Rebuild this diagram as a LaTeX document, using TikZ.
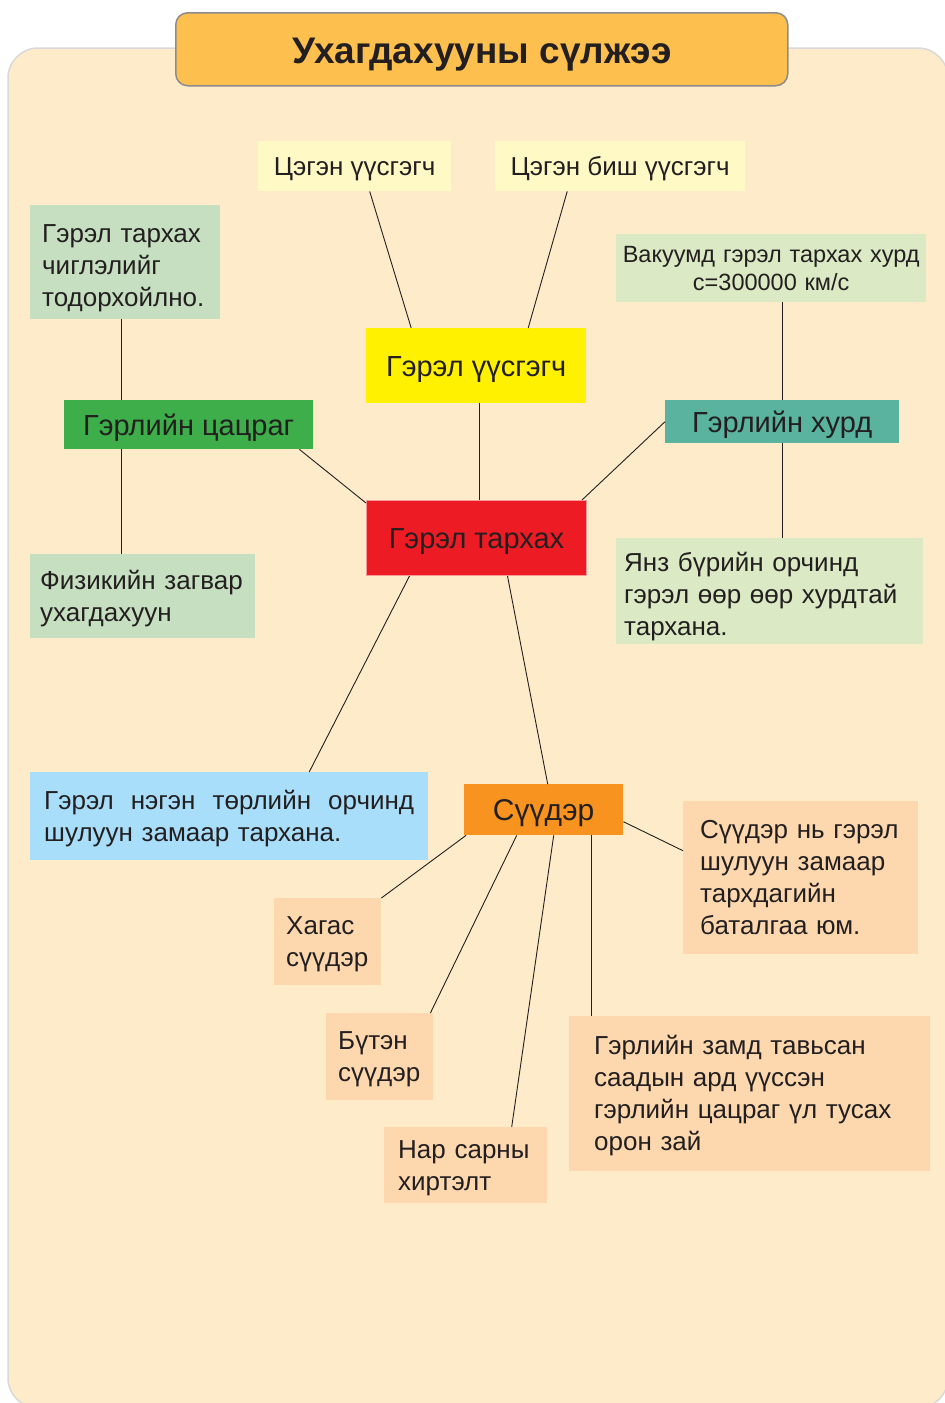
\documentclass[tikz,border=0pt]{standalone}
\usepackage{fontspec}
\setmainfont{Liberation Sans}
\usepackage{xcolor}
\usepackage{tikz}
\usetikzlibrary{positioning}

\definecolor{ink}{HTML}{231F20}
\definecolor{paper}{HTML}{FEEBC9}
\definecolor{titlefill}{HTML}{FDC04E}
\definecolor{paleyellow}{HTML}{FFF9C6}
\definecolor{sage}{HTML}{C6DFC0}
\definecolor{mint}{HTML}{DBEAC4}
\definecolor{lemon}{HTML}{FFF100}
\definecolor{leaf}{HTML}{3DAE49}
\definecolor{teal}{HTML}{5AB39E}
\definecolor{scarlet}{HTML}{ED1C24}
\definecolor{sky}{HTML}{A8DEFA}
\definecolor{tangerine}{HTML}{F7931E}
\definecolor{peach}{HTML}{FDD8AE}

\begin{document}
\begin{tikzpicture}[
  x=1pt, y=-1pt,
  %% style definitions
  box/.style    = {anchor=north west, inner xsep=0pt, inner ysep=0pt,
                   align=center, text=ink, text height=18pt,
                   font=\fontsize{26}{32}\selectfont},
  rows/.style   = {text depth=#1},
  note/.style   = {box, align=left},
  hub/.style    = {box, text height=21pt, text depth=0pt,
                   font=\fontsize{29}{32}\selectfont},
  wire/.style   = {draw=ink, line width=0.9pt},
]

\useasboundingbox (0,0) rectangle (945,1403);

%% ── Panel and title ──────────────────────────────────────────────────────────
\path[fill=paper, draw=black!15, line width=1.5pt, rounded corners=30pt]
  (8,48) rectangle (948,1408);

\node[box, fill=titlefill, draw=black!45, line width=1.5pt,
      rounded corners=12pt, minimum width=612pt, minimum height=73pt,
      text height=28pt, text depth=0pt,
      font=\fontsize{37}{40}\selectfont\bfseries]
  (title) at (175,12) {Ухагдахууны сүлжээ};

%% ── Sources (top) ────────────────────────────────────────────────────────────
\node[box, rows=0pt, fill=paleyellow, minimum width=193pt, minimum height=50pt]
  (point) at (258,141) {Цэгэн үүсгэгч};

\node[box, rows=0pt, fill=paleyellow, minimum width=250pt, minimum height=50pt]
  (nonpoint) at (495,141) {Цэгэн биш үүсгэгч};

\node[hub, fill=lemon, minimum width=220pt, minimum height=75pt]
  (source) at (366,328) {Гэрэл үүсгэгч};

%% ── Ray branch (left) ────────────────────────────────────────────────────────
\node[note, rows=58pt, fill=sage, inner xsep=12pt, text width=166pt,
      minimum height=114pt]
  (direction) at (30,205) {Гэрэл тархах\\чиглэлийг\\тодорхойлно.};

\node[hub, fill=leaf, minimum width=249pt, minimum height=49pt]
  (ray) at (64,400) {Гэрлийн цацраг};

\node[note, rows=32pt, fill=sage, inner xsep=10pt, text width=205pt,
      minimum height=84pt]
  (model) at (30,554) {Физикийн загвар\\ухагдахуун};

%% ── Speed branch (right) ─────────────────────────────────────────────────────
\node[box, fill=mint, text width=310pt, minimum height=68pt,
      text height=16.5pt, rows=28pt, font=\fontsize{23.5}{28}\selectfont]
  (vacuum) at (616,234) {Вакуумд гэрэл тархах хурд\\c=300000 км/с};

\node[hub, fill=teal, minimum width=234pt, minimum height=43pt]
  (speed) at (665,400) {Гэрлийн хурд};

\node[note, rows=58pt, fill=mint, inner xsep=8pt, text width=291pt,
      minimum height=106pt]
  (media) at (616,538) {Янз бүрийн орчинд\\гэрэл өөр өөр хурдтай\\тархана.};

%% ── Centre ───────────────────────────────────────────────────────────────────
\node[hub, fill=scarlet, draw=scarlet!45, line width=1pt,
      minimum width=220pt, minimum height=75pt]
  (spread) at (366,500) {Гэрэл тархах};

\node[note, rows=32pt, fill=sky, inner xsep=14pt, text width=370pt,
      minimum height=88pt]
  (straight) at (30,772)
  {\hbox to\linewidth{Гэрэл\hfill нэгэн\hfill төрлийн\hfill орчинд}\\
   шулуун замаар тархана.};

%% ── Shadow branch (bottom) ───────────────────────────────────────────────────
\node[hub, fill=tangerine, minimum width=159pt, minimum height=51pt,
      font=\fontsize{30}{32}\selectfont]
  (shadow) at (464,784) {Сүүдэр};

\node[note, rows=96pt, fill=peach, inner xsep=17pt, text width=201pt,
      minimum height=153pt]
  (proof) at (683,801) {Сүүдэр нь гэрэл\\шулуун замаар\\тархдагийн\\баталгаа юм.};

\node[note, rows=32pt, fill=peach, inner xsep=12pt, text width=83pt,
      minimum height=87pt]
  (half) at (274,898) {Хагас\\сүүдэр};

\node[note, rows=32pt, fill=peach, inner xsep=12pt, text width=83pt,
      minimum height=87pt]
  (full) at (326,1013) {Бүтэн\\сүүдэр};

\node[note, rows=32pt, fill=peach, inner xsep=14pt, text width=135pt,
      minimum height=76pt]
  (eclipse) at (384,1127) {Нар сарны\\хиртэлт};

\node[note, rows=96pt, fill=peach, inner xsep=25pt, text width=311pt,
      minimum height=155pt]
  (umbra) at (569,1016)
  {Гэрлийн замд тавьсан\\саадын ард үүссэн\\гэрлийн цацраг үл тусах\\орон зай};

%% ── Connectors ───────────────────────────────────────────────────────────────
\draw[wire] ([xshift=15pt]point.south)    -- ([xshift=-65pt]source.north);
\draw[wire] ([xshift=-53pt]nonpoint.south) -- ([xshift=52pt]source.north);
\draw[wire] ([xshift=3pt]source.south)    -- ([xshift=3pt]source.south |- spread.north);

\draw[wire] ([xshift=-4pt]direction.south) -- ([xshift=-4pt]direction.south |- ray.north);
\draw[wire] ([xshift=-67pt]ray.south)      -- ([xshift=-67pt]ray.south |- model.north);
\draw[wire] ([xshift=-14pt]ray.south east) -- ([yshift=-3pt]spread.north west);

\draw[wire] ([xshift=11pt]vacuum.south)   -- ([xshift=11pt]vacuum.south |- speed.north);
\draw[wire] (speed.south)                 -- (speed.south |- media.north);
\draw[wire] (speed.west)                  -- ([xshift=-5pt]spread.north east);

\draw[wire] ([xshift=-67pt]spread.south)  -- ([xshift=80pt]straight.north);
\draw[wire] ([xshift=31pt]spread.south)   -- ([xshift=4pt]shadow.north);

\draw[wire] ([yshift=-12pt]shadow.east)    -- ([yshift=27pt]proof.west);
\draw[wire] ([xshift=2pt]shadow.south west) -- (half.north east);
\draw[wire] ([xshift=-27pt]shadow.south)  -- ([xshift=-3pt]full.north east);
\draw[wire] ([xshift=10pt]shadow.south)   -- ([xshift=46pt]eclipse.north);
\draw[wire] ([xshift=48pt]shadow.south)   -- ([xshift=48pt]shadow.south |- umbra.north);

\end{tikzpicture}
\end{document}
